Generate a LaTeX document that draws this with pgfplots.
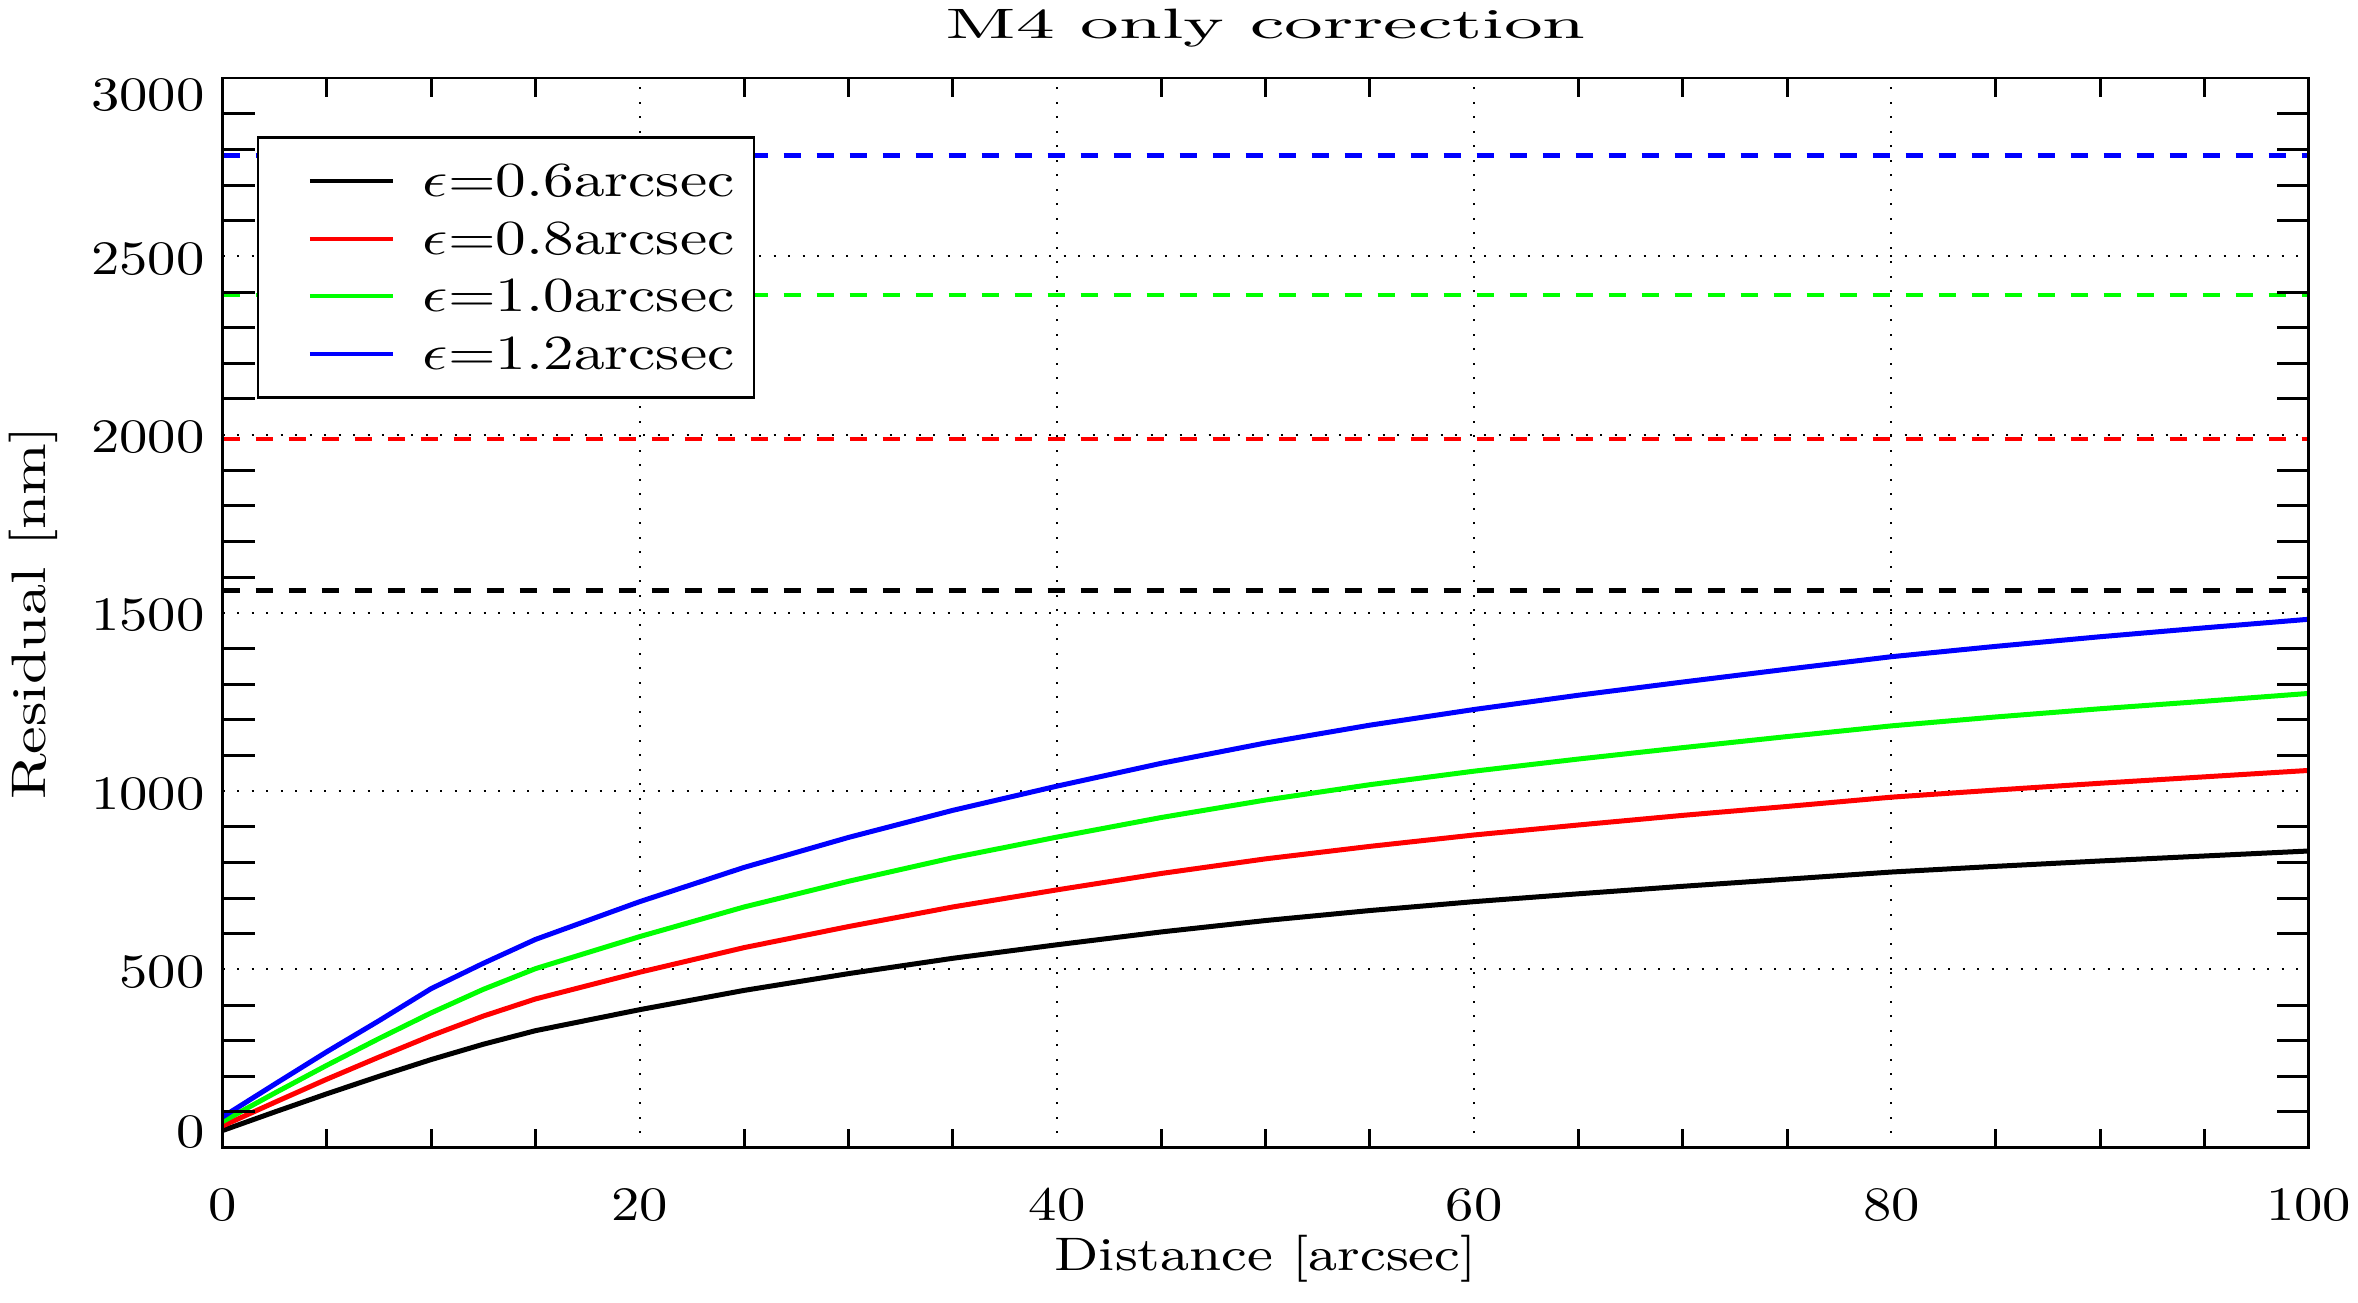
\documentclass[border=0pt]{standalone}
\usepackage{graphicx}
\usepackage{pgfplots}
\usepackage{pgfplotstable}
\pgfplotsset{compat=1.18}

\newcommand{\tl}[1]{{\fontsize{9.6}{11}\selectfont\scalebox{1.18}[1]{#1}}}
\newcommand{\lgt}[1]{{\fontsize{9.8}{11}\selectfont\scalebox{1.25}[1]{#1}}}

\pgfplotstableread{
d     black  red   green  blue
0     48     61    73     86
2.5   100    127   153    178
5     151    192   231    269
7.5   200    254   306    356
10    247    314   378    446
12.5  290    369   444    517
15    328    417   502    584
20    387    492   592    690
25    441    561   675    786
30    488    620   747    870
35    531    675   813    946
40    569    723   871    1014
45    605    769   926    1078
50    637    810   975    1135
55    665    845   1018   1185
60    690    877   1056   1229
65    712    905   1090   1269
70    733    932   1122   1306
75    753    957   1153   1342
80    773    983   1183   1377
85    789    1003  1208   1406
90    804    1022  1231   1433
95    818    1040  1252   1458
100   832    1058  1274   1482
}\curves

\pgfplotstableread{
d     black  red   green  blue
0     1563   1987  2391   2783
100   1563   1987  2391   2783
}\limits

\begin{document}
\begin{tikzpicture}
\path[use as bounding box] (-44.52pt,-30.88pt) rectangle (427.08pt,229.52pt);
\begin{axis}[
  at={(0,0)}, anchor=south west,
  width=417.2pt, height=213.9pt, scale only axis,
  xmin=0, xmax=100, ymin=0, ymax=3000,
  xtick={0,20,40,60,80,100},
  xticklabels={\tl{0},\tl{20},\tl{40},\tl{60},\tl{80},\tl{100}},
  ytick={0,500,1000,1500,2000,2500,3000},
  yticklabels={\tl{0},\raisebox{-3.6pt}{\tl{500}},\raisebox{-3.6pt}{\tl{1000}},\raisebox{-3.6pt}{\tl{1500}},\raisebox{-3.6pt}{\tl{2000}},\raisebox{-3.6pt}{\tl{2500}},\raisebox{-6.4pt}{\tl{3000}}},
  minor x tick num=3,
  tick align=inside, tick pos=both,
  major tick length=0pt, minor tick length=3.7pt,
  xticklabel style={anchor=north, inner sep=0pt, yshift=-7.9pt},
  yticklabel style={anchor=base east, inner sep=0pt, xshift=-3.4pt},
  grid=major,
  major grid style={black, line width=0.4pt, dash pattern=on 0.4pt off 2.5pt},
  minor tick style={black, line width=0.6pt},
  axis line style={black, line width=0.5pt},
  every axis title shift=0pt,
  title={\fontsize{8.5}{10}\selectfont\scalebox{1.77}[1]{M4 only correction}},
  title style={at={([yshift=8pt]axis description cs:0.5,1)}, anchor=base, inner sep=0pt},
  xlabel={\fontsize{9.4}{11}\selectfont\scalebox{1.2}[1]{Distance [arcsec]}},
  xlabel style={at={([yshift=-24.5pt]axis description cs:0.5,0)}, anchor=base, inner sep=0pt},
  ylabel={\fontsize{9.7}{11}\selectfont\scalebox{1.28}[1]{Residual [nm]}},
  ylabel style={at={([xshift=-35.5pt]axis description cs:0,0.5)}, anchor=base, inner sep=0pt},
  legend cell align=left,
  legend style={at={(0.0163,0.9458)}, anchor=north west, draw=black, line width=0.5pt, fill=white,
    inner xsep=3.9pt, inner ysep=3pt, row sep=0pt, column sep=5.6pt,
    nodes={inner sep=0pt, text height=8.9pt, text depth=2.6pt}},
  legend image code/.code={\path[draw=none,fill=none] (0pt,0pt) -- (6.5pt,0pt); \draw[#1,line width=0.8pt] (6.5pt,0pt) -- (23.1pt,0pt);},
]
\addplot[black, line width=1pt] table[x=d,y=black]{\curves};
\addlegendentry{\lgt{$\epsilon$=0.6arcsec}}
\addplot[red, line width=1pt] table[x=d,y=red]{\curves};
\addlegendentry{\lgt{$\epsilon$=0.8arcsec}}
\addplot[green, line width=1pt] table[x=d,y=green]{\curves};
\addlegendentry{\lgt{$\epsilon$=1.0arcsec}}
\addplot[blue, line width=1pt] table[x=d,y=blue]{\curves};
\addlegendentry{\lgt{$\epsilon$=1.2arcsec}}
\addplot[black, line width=0.85pt, dash pattern=on 3.4pt off 3.2pt, forget plot] table[x=d,y=black]{\limits};
\addplot[red, line width=0.85pt, dash pattern=on 3.4pt off 3.2pt, forget plot] table[x=d,y=red]{\limits};
\addplot[green, line width=0.85pt, dash pattern=on 3.4pt off 3.2pt, forget plot] table[x=d,y=green]{\limits};
\addplot[blue, line width=0.85pt, dash pattern=on 3.4pt off 3.2pt, forget plot] table[x=d,y=blue]{\limits};
\end{axis}
\begin{axis}[
  at={(0,0)}, anchor=south west,
  width=417.2pt, height=213.9pt, scale only axis,
  xmin=0, xmax=100, ymin=0, ymax=3000,
  xtick=\empty,
  ytick={0,500,1000,1500,2000,2500,3000},
  yticklabels={},
  minor y tick num=4,
  tick align=inside, tick pos=both,
  major tick length=0pt, minor tick length=6.4pt,
  minor tick style={black, line width=0.6pt},
  axis line style={black, line width=0.5pt},
]
\addplot[draw=none, forget plot] coordinates {(0,0) (100,3000)};
\end{axis}
\end{tikzpicture}
\end{document}
